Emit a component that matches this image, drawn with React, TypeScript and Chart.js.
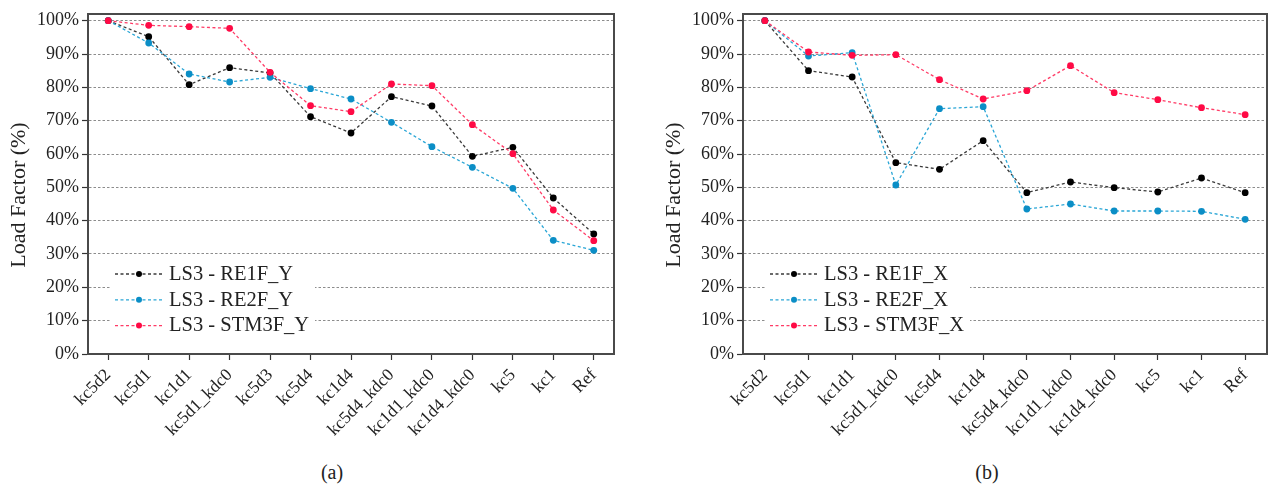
import React, { useEffect, useRef } from 'react';
import { Chart, registerables } from 'chart.js';

Chart.register(...registerables);

// ---------- Data ----------
const categoriesA = ['kc5d2', 'kc5d1', 'kc1d1', 'kc5d1_kdc0', 'kc5d3', 'kc5d4', 'kc1d4', 'kc5d4_kdc0', 'kc1d1_kdc0', 'kc1d4_kdc0', 'kc5', 'kc1', 'Ref'];
const re1fY = [100, 95.2, 80.8, 85.9, 84.3, 71.2, 66.3, 77.2, 74.4, 59.3, 62.0, 46.8, 36.0];
const re2fY = [100, 93.3, 84.0, 81.6, 83.0, 79.6, 76.5, 69.5, 62.2, 56.0, 49.7, 34.1, 31.1];
const stm3fY = [100, 98.6, 98.2, 97.7, 84.5, 74.5, 72.7, 81.0, 80.5, 68.8, 60.1, 43.2, 34.0];

const categoriesB = ['kc5d2', 'kc5d1', 'kc1d1', 'kc5d1_kdc0', 'kc5d4', 'kc1d4', 'kc5d4_kdc0', 'kc1d1_kdc0', 'kc1d4_kdc0', 'kc5', 'kc1', 'Ref'];
const re1fX = [100, 85.0, 83.1, 57.4, 55.4, 64.0, 48.4, 51.6, 49.9, 48.6, 52.8, 48.4];
const re2fX = [100, 89.4, 90.4, 50.7, 73.6, 74.2, 43.5, 45.0, 42.9, 42.9, 42.8, 40.4];
const stm3fX = [100, 90.6, 89.6, 89.8, 82.3, 76.5, 79.0, 86.5, 78.4, 76.3, 73.9, 71.8];

const seriesNamesA = ['LS3 - RE1F_Y', 'LS3 - RE2F_Y', 'LS3 - STM3F_Y'];
const seriesNamesB = ['LS3 - RE1F_X', 'LS3 - RE2F_X', 'LS3 - STM3F_X'];

const yAxisTitle = 'Load Factor (%)';
const captionA = '(a)';
const captionB = '(b)';
const yMin = 0;
const yMax = 102;
const yStep = 10;

// ---------- Styles ----------
const FONT = "'Liberation Serif', 'Times New Roman', serif";
const lineColors = ['#3a3a3a', '#2aa6d6', '#ff3b66'];
const pointColors = ['#000000', '#0b8ec6', '#ff0a45'];

const overlayPlugin = {
  id: 'overlay',
  afterDraw(chart: any) {
    const { ctx, chartArea: a } = chart;
    ctx.save();
    // legend box inside plot
    ctx.fillStyle = '#ffffff';
    ctx.fillRect(a.left + 22, a.bottom - 94, 205, 82);
    chart.data.datasets.forEach((ds: any, i: number) => {
      const y = a.bottom - 80 + i * 25.8;
      ctx.strokeStyle = ds.borderColor;
      ctx.lineWidth = 1.3;
      ctx.setLineDash([3, 2.5]);
      ctx.beginPath();
      ctx.moveTo(a.left + 27, y);
      ctx.lineTo(a.left + 75, y);
      ctx.stroke();
      ctx.setLineDash([]);
      ctx.fillStyle = ds.pointBackgroundColor;
      ctx.beginPath();
      ctx.arc(a.left + 51, y, 3, 0, Math.PI * 2);
      ctx.fill();
      ctx.fillStyle = '#222';
      ctx.font = `20.5px ${FONT}`;
      ctx.textAlign = 'left';
      ctx.textBaseline = 'middle';
      ctx.fillText(ds.label, a.left + 81, y + 0.5);
    });
    // frame
    ctx.strokeStyle = '#4a4a4a';
    ctx.lineWidth = 2;
    ctx.strokeRect(a.left, a.top, a.right - a.left, a.bottom - a.top);
    // y title
    ctx.translate(19, a.top + (a.bottom - a.top) / 2 + 11);
    ctx.rotate(-Math.PI / 2);
    ctx.fillStyle = '#222';
    ctx.font = `22px ${FONT}`;
    ctx.textAlign = 'center';
    ctx.textBaseline = 'middle';
    ctx.fillText(yAxisTitle, 0, 0);
    ctx.restore();
  },
};

function makeConfig(labels: string[], series: number[][], names: string[], rightPad: number): any {
  return {
    type: 'line',
    data: {
      labels,
      datasets: series.map((data, i) => ({
        label: names[i],
        data,
        borderColor: lineColors[i],
        backgroundColor: pointColors[i],
        pointBackgroundColor: pointColors[i],
        pointBorderColor: pointColors[i],
        pointBorderWidth: 0,
        pointRadius: 3.4,
        borderWidth: 1.3,
        borderDash: [3, 2.5],
        tension: 0,
        fill: false,
        order: 3 - i,
      })),
    },
    options: {
      responsive: false,
      animation: false,
      devicePixelRatio: 1,
      layout: { padding: { left: 0, right: rightPad, top: 14, bottom: 0 } },
      plugins: { legend: { display: false }, tooltip: { enabled: false }, title: { display: false } },
      scales: {
        x: {
          type: 'category',
          offset: true,
          afterFit: (s: any) => { s.height = 106; },
          grid: {
            display: true,
            offset: false,
            drawOnChartArea: false,
            drawTicks: true,
            tickLength: 6,
            tickColor: '#333',
            tickWidth: 1.2,
          },
          border: { display: true, color: '#4a4a4a', width: 2 },
          ticks: {
            color: '#222',
            font: { family: FONT, size: 17.5 },
            maxRotation: 45,
            minRotation: 45,
            autoSkip: false,
            padding: 5,
          },
        },
        y: {
          min: yMin,
          max: yMax,
          afterFit: (s: any) => { s.width = 88; },
          grid: {
            color: '#8c8c8c',
            lineWidth: 1,
            drawTicks: true,
            tickLength: 6,
            tickColor: '#333',
            tickWidth: 1.2,
            tickBorderDash: [],
          },
          border: { display: true, color: '#4a4a4a', width: 2, dash: [2.5, 2] },
          ticks: {
            stepSize: yStep,
            includeBounds: false,
            color: '#222',
            font: { family: FONT, size: 18 },
            padding: 3,
            callback: (v: any) => `${v}%`,
          },
        },
      },
    },
    plugins: [overlayPlugin],
  };
}

export default function App() {
  const refA = useRef<HTMLCanvasElement>(null);
  const refB = useRef<HTMLCanvasElement>(null);

  useEffect(() => {
    const a = new Chart(refA.current as HTMLCanvasElement, makeConfig(categoriesA, [re1fY, re2fY, stm3fY], seriesNamesA, 26));
    const b = new Chart(refB.current as HTMLCanvasElement, makeConfig(categoriesB, [re1fX, re2fX, stm3fX], seriesNamesB, 1));
    return () => {
      a.destroy();
      b.destroy();
    };
  }, []);

  const captionStyle: React.CSSProperties = {
    position: 'absolute',
    top: 461,
    width: 80,
    textAlign: 'center',
    fontFamily: FONT,
    fontSize: 20,
    color: '#222',
    lineHeight: '23px',
  };

  return (
    <div style={{ position: 'absolute', left: 0, top: 0, width: 1271, height: 484, background: '#fff', overflow: 'hidden' }}>
      <canvas ref={refA} width={640} height={460} style={{ position: 'absolute', left: 0, top: 0, width: 640, height: 460 }} />
      <canvas ref={refB} width={616} height={460} style={{ position: 'absolute', left: 655, top: 0, width: 616, height: 460 }} />
      <div style={{ ...captionStyle, left: 332 - 40 }}>{captionA}</div>
      <div style={{ ...captionStyle, left: 987 - 40 }}>{captionB}</div>
    </div>
  );
}
